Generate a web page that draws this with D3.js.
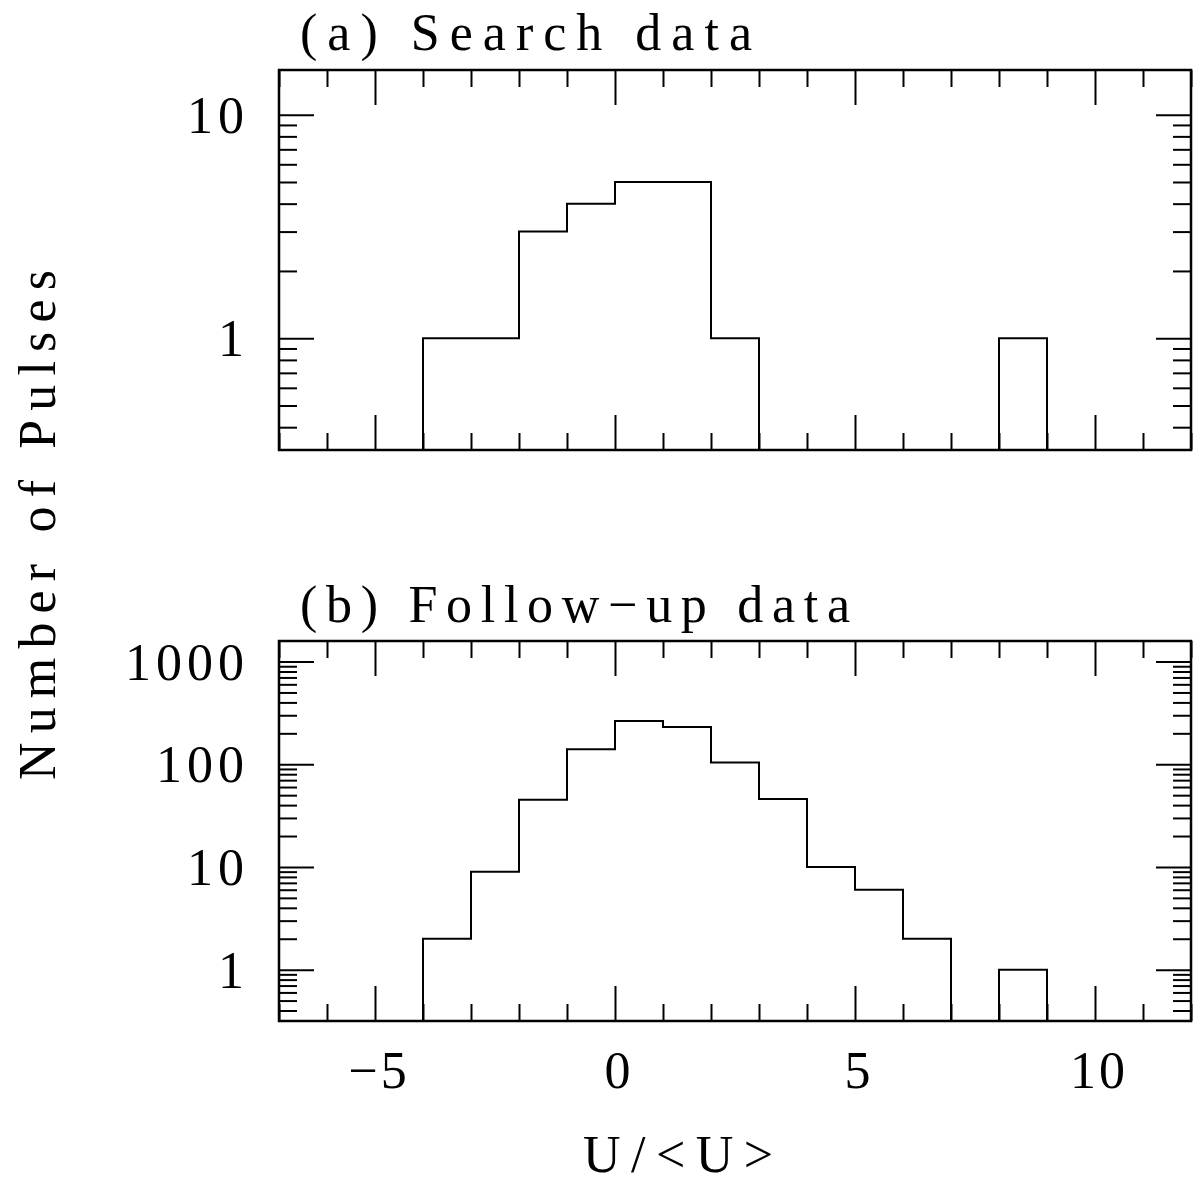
<!DOCTYPE html>
<html>
<head>
<meta charset="utf-8">
<script src="https://cdn.jsdelivr.net/npm/d3@7"></script>
<style>
  html, body { margin: 0; padding: 0; background: #fff; }
  text { font-family: "Liberation Serif", "DejaVu Serif", serif; fill: #000; }
</style>
</head>
<body>
<svg id="chart" width="1194" height="1188"></svg>
<script>
// bin edges (U/<U>) and counts per bin
const binEdges = [-4, -3, -2, -1, 0, 1, 2, 3, 4, 5, 6, 7, 8, 9];
const searchCounts = [1, 1, 3, 4, 5, 5, 1, 0, 0, 0, 0, 0, 1];
const followCounts = [2, 9, 45, 140, 263, 230, 104, 46, 10, 6, 2, 0, 1];

const xMajor = [-5, 0, 5, 10];
const xTickLabels = ["\u22125", "0", "5", "10"];
const searchYTicks = [1, 10];
const followYTicks = [1, 10, 100, 1000];

const svg = d3.select("#chart");
const left = 279, right = 1191;

const x = d3.scaleLinear().domain([-7, 12]).range([left, right]);

const panels = [
    { title: "(a) Search data", counts: searchCounts, yTicks: searchYTicks,
      top: 70, bottom: 450, domain: [Math.pow(10, -0.5), Math.pow(10, 1.2)],
      titleY: 50, titleLen: 452 },
    { title: "(b) Follow\u2212up data", counts: followCounts, yTicks: followYTicks,
      top: 641, bottom: 1021, domain: [Math.pow(10, -0.5), Math.pow(10, 3.2)],
      titleY: 622, titleLen: 550 }
];

const xMinor = d3.range(-7, 13).filter(v => !xMajor.includes(v));

function minorLog(y) {
    const [lo, hi] = y.domain();
    const out = [];
    for (let e = Math.floor(Math.log10(lo)); e <= Math.ceil(Math.log10(hi)); e++) {
        for (let m = 2; m <= 9; m++) {
            const v = m * Math.pow(10, e);
            if (v >= lo && v <= hi) out.push(v);
        }
    }
    return out;
}

function tickAxis(g, axis, vals, size) {
    g.call(axis.tickValues(vals).tickSize(size).tickFormat(""));
    g.select(".domain").remove();
    g.selectAll(".tick line").attr("stroke", "#000").attr("stroke-width", 2);
}

panels.forEach((p, pi) => {
    const y = d3.scaleLog().domain(p.domain).range([p.bottom, p.top]);
    const g = svg.append("g");
    const h = p.bottom - p.top;

    // ticks, pointing into the frame on all four sides
    tickAxis(g.append("g").attr("transform", `translate(0,${p.bottom})`), d3.axisTop(x), xMinor, 17);
    tickAxis(g.append("g").attr("transform", `translate(0,${p.bottom})`), d3.axisTop(x), xMajor, 35);
    tickAxis(g.append("g").attr("transform", `translate(0,${p.top})`), d3.axisBottom(x), xMinor, 17);
    tickAxis(g.append("g").attr("transform", `translate(0,${p.top})`), d3.axisBottom(x), xMajor, 35);
    tickAxis(g.append("g").attr("transform", `translate(${left},0)`), d3.axisRight(y), minorLog(y), 18);
    tickAxis(g.append("g").attr("transform", `translate(${left},0)`), d3.axisRight(y), p.yTicks, 35);
    tickAxis(g.append("g").attr("transform", `translate(${right},0)`), d3.axisLeft(y), minorLog(y), 18);
    tickAxis(g.append("g").attr("transform", `translate(${right},0)`), d3.axisLeft(y), p.yTicks, 35);

    // frame
    g.append("rect")
        .attr("x", left).attr("y", p.top)
        .attr("width", right - left).attr("height", h)
        .attr("fill", "none").attr("stroke", "#000").attr("stroke-width", 2.5);

    // histogram outline (empty bins sit on the lower edge)
    const pts = [[binEdges[0], p.domain[0]]];
    p.counts.forEach((c, i) => {
        const v = c > 0 ? c : p.domain[0];
        pts.push([binEdges[i], v], [binEdges[i + 1], v]);
    });
    pts.push([binEdges[binEdges.length - 1], p.domain[0]]);
    g.append("path")
        .attr("d", d3.line().x(d => x(d[0])).y(d => y(d[1]))(pts))
        .attr("fill", "none").attr("stroke", "#000").attr("stroke-width", 2);

    // y tick labels
    g.selectAll(".ylab")
        .data(p.yTicks)
        .enter().append("text")
        .attr("x", left - 30)
        .attr("y", d => y(d))
        .attr("dy", "0.35em")
        .attr("text-anchor", "end")
        .style("font-size", "52px")
        .style("letter-spacing", "5px")
        .text(d => d);

    // panel title
    g.append("text")
        .attr("x", 300).attr("y", p.titleY)
        .attr("textLength", p.titleLen).attr("lengthAdjust", "spacing")
        .style("font-size", "52px")
        .text(p.title);

    // x tick labels on the lower panel only
    if (pi === 1) {
        g.selectAll(".xlab")
            .data(xMajor)
            .enter().append("text")
            .attr("x", d => x(d) + 4)
            .attr("y", 1088)
            .attr("text-anchor", "middle")
            .style("font-size", "52px")
            .style("letter-spacing", "3px")
            .text((d, i) => xTickLabels[i]);
    }
});

// axis titles
svg.append("text")
    .attr("transform", "translate(55,525) rotate(-90)")
    .attr("text-anchor", "middle")
    .attr("textLength", 510).attr("lengthAdjust", "spacing")
    .style("font-size", "52px")
    .text("Number of Pulses");

svg.append("text")
    .attr("x", 583).attr("y", 1172)
    .attr("textLength", 190).attr("lengthAdjust", "spacing")
    .style("font-size", "52px")
    .text("U/<U>");
</script>
</body>
</html>
